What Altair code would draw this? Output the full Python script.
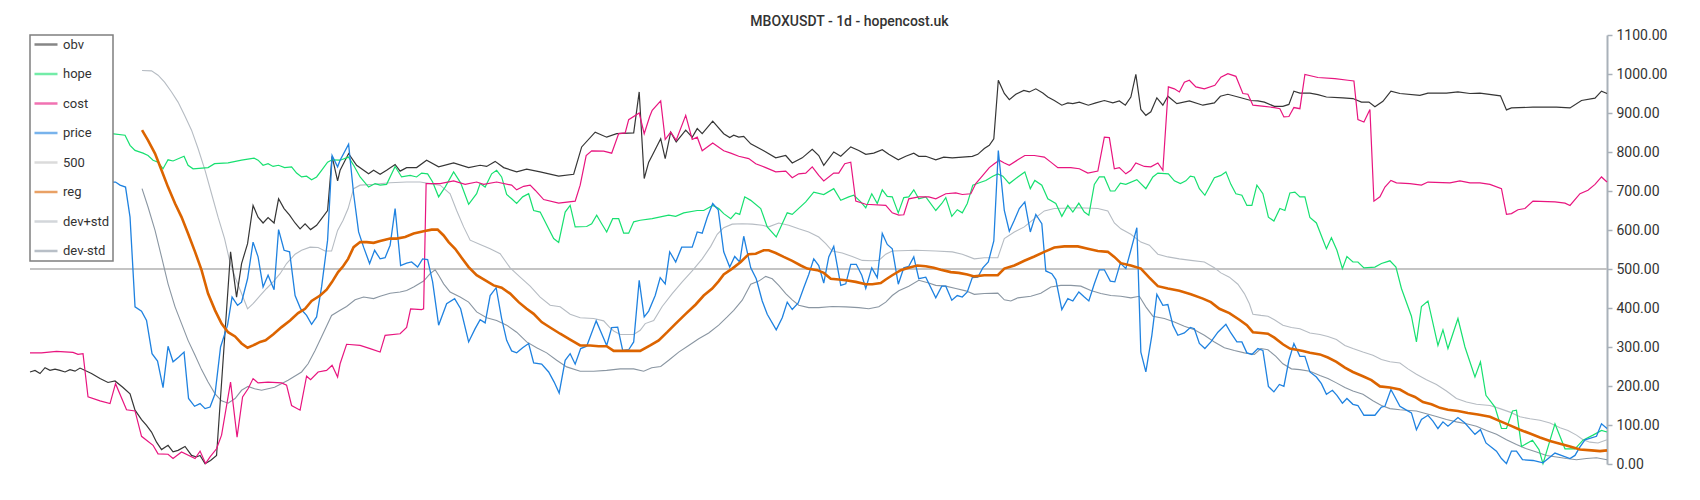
import altair as alt
import pandas as pd

# ---------------- data (day index, value) ----------------
obv_day = [0, 1, 2, 3, 4, 5, 6, 7, 8, 9, 10, 12.3, 14, 15.6, 17, 18.6, 20, 21, 22.3, 23.3, 24.3, 25.3, 26.3, 27.6, 28.6, 29.6, 31, 32.3, 33.3, 34, 35, 36.1, 37.3, 40.1, 41.3, 42.3, 43.5, 44.6, 45.6, 46.6, 47.6, 48.8, 49.7, 50.8, 51.9, 53, 54, 55, 56.1, 57.3, 58.3, 59.5, 60.4, 61.5,
           62, 63.7, 65.3, 67.7, 68.7, 70, 71.3, 73, 74, 75.3, 77.3, 79.3, 81.7, 84.7, 87.7, 90, 91.3, 93, 94.7, 97.3, 99.3, 102, 105.7, 108.7, 110.3, 113, 115.3, 117.3, 120.7, 121.8, 122.8, 123.7,
           124.4, 126.1, 127, 128.1, 129.2, 131.1, 132.4, 133.4, 134.4, 136.5, 138.7, 139.9, 140.7, 141.7, 142.7, 144.1, 146.7, 149.1, 151.1, 152.4, 154.4, 156.4, 157.7, 158.7, 160.7, 162.1, 164.1, 165.7, 167.1, 168.7, 170.4, 171.7, 173.6, 175.1, 176.7, 177.7, 179.1, 181.1, 182.7, 184.4, 188.4,
           189.5, 190.8, 191.8, 192.7, 193.6, 194.8, 195.8, 197.1, 198.7, 199.8, 201.1, 202.5, 203.5, 204.8, 206.3, 207.5, 208.5, 209.8, 211.6, 213.1, 214.8, 216.5, 217.8, 219, 220.1, 221.1, 222.1, 223.1, 224.1, 225.3, 226.5, 227.5, 229.3, 231.8, 234.5, 236.8, 238, 239.5, 242.1, 244.1, 245.5, 246.8, 248.8,
           250.5, 251.7, 252.7, 253.9, 255.9, 257.5, 259.2, 262.5, 264.5, 266.2, 267.7, 268.9, 270.5, 272.1, 273.9, 277.9, 279.5, 283.2, 285.5, 287.9, 289.9, 294, 295.2, 296.2, 300.5, 305.2, 307.9, 310.2, 312.9, 314.2, 315.3]
obv_val = [236, 240, 232, 247, 240, 243, 240, 236, 242, 238, 246, 232, 219, 209, 213, 196, 180, 138, 114, 99, 82, 56, 37, 48, 31, 35, 45, 22, 18, 22, 1, 9, 22, 544, 428, 514, 565, 663, 633, 618, 632, 618, 680, 655, 638, 618, 603, 616, 601, 612, 629, 650, 789, 726,
           753, 796, 766, 744, 753, 743, 753, 768, 751, 760, 760, 779, 762, 772, 760, 766, 763, 776, 760, 749, 756, 749, 738, 743, 813, 851, 838, 847, 849, 954, 732, 774,
           791, 834, 783, 851, 826, 856, 838, 860, 847, 879, 847, 837, 843, 838, 840, 821, 803, 785, 791, 772, 785, 807, 791, 766, 800, 789, 813, 804, 794, 797, 806, 794, 780, 789, 797, 789, 789, 780, 787, 785, 789,
           794, 809, 817, 834, 984, 950, 934, 948, 958, 954, 962, 951, 941, 932, 920, 926, 924, 928, 920, 926, 932, 926, 931, 920, 941, 999, 909, 894, 903, 939, 920, 943, 924, 931, 920, 926, 943, 948, 939, 932, 931, 928, 917,
           917, 922, 956, 951, 951, 947, 941, 939, 937, 928, 928, 916, 930, 956, 950, 945, 951, 951, 954, 950, 951, 944, 908, 913, 915, 915, 913, 932, 938, 956, 950]

hope_day = [0, 16.3, 19, 20, 21, 22.6, 23.6, 24.6, 25.6, 26.6, 27.6, 28.6, 30.8, 31.6, 32.6, 35.6, 36.9, 39.6, 42.3, 44.8, 45.6, 46.6, 47.6, 48.6, 49.7, 50.9, 52.3, 53.3, 54.3, 55.3, 56.3, 57.3, 58.3, 59.5, 60.4,
            62, 63.7, 64.7, 66, 67.7, 69, 70, 71.3, 73, 74.3, 76, 77.3, 78.3, 79.5, 80.5, 81.7, 83, 84.7, 86.1, 87.7, 89.3, 90, 91, 92.3, 93.3, 94.3, 95.3, 96.3, 97.3, 98.5, 99.7, 100.7, 102, 104.7, 105.7, 107, 108, 109, 111.3, 112.3, 113.3, 114.3, 115.3, 116.5, 117.7, 118.7, 119.7, 120.7, 122,
            124.4, 127.7, 129.1, 130.7, 133.4, 134.7, 136.5, 137.7, 138.7, 140.1, 141.1, 141.9, 142.9, 144.1, 146.1, 147.4, 149.2, 151.4, 152.4, 155.1, 156.7, 158.7, 160.7, 162.1, 163.7, 164.7, 166.1, 167.1, 168.3, 169.4, 170.4, 171.4, 172.4, 173.6, 174.7, 175.7, 176.7, 177.7, 179.1, 181.1, 182.3, 183.1, 184.3, 185.4, 186.4,
            187.4, 188.5, 189.8, 191.1, 192.5, 193.5, 194.5, 195.8, 197.5, 198.9, 200, 200.9, 202.3, 203.5, 205.1, 206.3, 207.5, 208.5, 209.7, 210.8, 211.7, 212.8, 213.8, 214.8, 216, 216.9, 218, 219.1, 221.3, 223.1, 224.5, 225.5, 227.6, 228.8, 230, 231.1, 232, 232.8, 233.8, 234.9, 236.8, 238.1, 239.1, 240.1, 241.1, 242.3, 243.3, 244.3, 245.3, 246.5, 247.6, 248.7,
            249.9, 250.9, 251.9, 252.9, 253.9, 254.9, 255.9, 257.2, 259.2, 260.2, 261.3, 262.4, 263.3, 264.5, 265.5, 266.7, 268.9, 270.2, 271.9, 273.1, 274.2, 276.2, 277.2, 278.2, 279.5, 281.5, 282.5, 283.5, 285.5, 286.9, 288.9, 290, 291.1, 292.9, 294.2, 295.2, 296.4, 297.2, 298.2, 300.4, 301.7, 302.5, 304.9, 306.9, 308.9, 310.5, 312.5, 314.2, 315.3]
hope_val = [848, 847, 843, 817, 804, 797, 791, 779, 774, 757, 780, 777, 789, 766, 757, 760, 770, 772, 779, 784, 779, 766, 770, 763, 766, 760, 762, 746, 736, 738, 729, 736, 753, 774, 780,
            779, 787, 766, 736, 710, 719, 715, 717, 763, 736, 740, 736, 746, 744, 723, 685, 710, 749, 721, 666, 693, 719, 710, 744, 753, 736, 691, 680, 668, 685, 693, 650, 646, 578, 568, 646, 663, 608, 609, 616, 638, 616, 595, 629, 629, 592, 592, 621, 625,
            629, 638, 635, 644, 650, 650, 663, 655, 642, 629, 644, 640, 685, 676, 655, 608, 582, 644, 640, 672, 697, 691, 706, 676, 685, 689, 672, 657, 693, 668, 703, 686, 685, 644, 683, 685, 703, 680, 685, 650, 668, 683, 635, 652, 644,
            668, 715, 721, 727, 738, 744, 738, 719, 736, 749, 706, 727, 715, 680, 668, 635, 663, 646, 669, 646, 638, 717, 736, 736, 700, 700, 720, 717, 729, 706, 736, 746, 744, 726, 719, 726, 738, 736, 706, 689, 734, 740, 749, 717, 693, 689, 663, 663, 715, 693, 633, 623,
            655, 650, 695, 697, 685, 685, 632, 618, 552, 580, 548, 501, 532, 518, 518, 503, 505, 514, 521, 505, 450, 379, 313, 404, 418, 304, 344, 296, 373, 300, 223, 262, 176, 146, 91, 91, 136, 138, 45, 61, 37, 1, 103, 39, 39, 61, 74, 86, 82]

cost_day = [0, 2.3, 5.3, 8.6, 9.6, 10.6, 11.6, 14, 16, 17.1, 19.3, 21, 22.3, 24.6, 25.6, 27.6, 28.6, 30.3, 33, 34, 35.1, 36, 37.3, 38.3, 40.1, 41.4, 42.5, 43.6, 44.6, 45.6, 47.6, 50.3, 51.3, 52.3, 54, 55.3, 56.1, 57.6, 59.3, 60.4, 61.5,
            62, 63.3, 66, 68, 70, 71, 74, 75.3, 76.1, 78.3, 78.7, 79.2, 82, 84.7, 87, 89.3, 90.7, 93.3, 96.3, 97.3, 98.7, 100, 101, 102.7, 105.7, 109, 110, 111.2, 112.3, 114.7, 116.3, 117.7, 119, 119.7, 121.8, 122.8, 123.9,
            124.4, 126.1, 127, 128.1, 129.2, 131.1, 132.4, 133.4, 134.4, 136.5, 138.7, 140.1, 141.7, 143.7, 145.1, 147.1, 149.1, 151.1, 152.4, 153.7, 155.1, 156.4, 157.7, 158.7, 160.7, 161.7, 162.9, 164.1, 165.1, 167.1, 171.1, 172.4, 173.7, 174.7, 175.7, 177.7, 179.7, 181.1, 183.1, 185.1, 186.4,
            188.1, 189.1, 190.5, 191.8, 192.8, 193.8, 194.8, 195.8, 197.5, 198.9, 200.8, 202.8, 204.1, 205.5, 208.1, 209.8, 211.5, 213.5, 214.8, 215.8, 216.8, 217.8, 219.1, 220.1, 221.1, 222.8, 224.1, 225.5, 226.5, 227.6, 228.8, 229.8, 230.8, 231.8, 233.1, 234.8, 236.9, 238.1, 239.5, 241.1, 242.5, 243.5, 244.5, 246.8, 248.8,
            249.9, 250.7, 251.7, 252.7, 253.9, 254.9, 257.5, 260.9, 263.5, 264.7, 265.5, 266.7, 267.9, 268.7, 269.9, 270.9, 272.1, 273.2, 275.9, 278.2, 279.5, 283.9, 285.9, 287.9, 289.9, 291.9, 294.2, 295.2, 296.2, 297.5, 298.9, 300.5, 304.9, 306.9, 307.9, 309.9, 311.5, 312.9, 314.2, 315.3]
cost_val = [285, 285, 289, 286, 281, 283, 172, 162, 155, 206, 139, 136, 71, 48, 26, 25, 14, 31, 14, 33, 1, 18, 39, 74, 210, 69, 172, 193, 219, 208, 210, 208, 202, 150, 138, 225, 216, 236, 240, 253, 223,
            257, 307, 304, 296, 287, 330, 334, 350, 398, 396, 398, 719, 719, 726, 717, 723, 717, 723, 715, 703, 712, 715, 702, 678, 669, 674, 715, 791, 803, 802, 797, 847, 849, 883, 900, 847, 891,
            907, 931, 832, 851, 830, 894, 832, 838, 803, 823, 803, 797, 789, 783, 770, 760, 749, 751, 734, 744, 746, 762, 740, 726, 746, 746, 770, 774, 674, 666, 663, 644, 638, 639, 680, 685, 685, 680, 693, 695, 691,
            693, 719, 740, 760, 770, 779, 772, 766, 780, 791, 791, 787, 774, 760, 760, 757, 746, 751, 838, 837, 757, 760, 744, 753, 772, 763, 762, 772, 753, 967, 962, 954, 979, 984, 967, 962, 971, 992, 1001, 994, 950, 948, 920, 917, 914,
            911, 890, 891, 914, 911, 999, 991, 988, 984, 982, 883, 877, 909, 674, 685, 710, 727, 721, 719, 715, 723, 721, 726, 721, 721, 717, 706, 640, 642, 652, 655, 674, 672, 669, 663, 693, 702, 717, 736, 723]

price_day = [0, 16.3, 17.1, 18, 19.1, 20, 21, 22.3, 23.3, 24.4, 25.5, 26.6, 27.6, 28.6, 29.7, 30.8, 31.7, 32.9, 34, 35, 36, 37, 38.1, 39.5, 40.4, 41.5, 42.3, 43.5, 44.6, 45.6, 46.6, 47.6, 48.8, 49.7, 50.8, 51.9, 53, 54.1, 55.3, 56.3, 57.3, 58.3, 59.5, 60.4, 61.5,
             62, 63.7, 64.7, 65.7, 66.7, 67.9, 68.9, 70, 71, 72, 73, 74.1, 75.3, 76.3, 77.5, 78.5, 79.5, 80.5, 81.7, 83.3, 84.9, 86.1, 87.7, 89, 90, 91, 92, 93.2, 94.3, 95.3, 96.3, 97.3, 98.5, 99.7, 100.7, 102.3, 103.7, 104.8, 105.8, 107, 108, 109, 110.1, 111.3, 113.2, 114.3, 115.3, 116.3, 117.5, 118.5, 119.7, 120.7, 121.8, 122.8, 123.7, 125, 126,
             127, 127.9, 129.1, 130.3, 132.4, 133.4, 134.4, 135.4, 136.5, 137.6, 138.7, 139.9, 140.9, 141.9, 142.7, 144.1, 145.2, 146.4, 147.4, 149.2, 150.4, 151.4, 152.4, 153.6, 154.7, 155.7, 156.7, 157.7, 158.7, 159.7, 160.7, 162.1, 163.1, 164.1, 165.2, 166.3, 167.1, 168.3, 169.4, 170.4, 171.4, 172.4, 173.6, 174.7, 175.7, 176.7, 177.7, 179.1, 181.1, 182.3, 183.1, 184.3, 185.4, 186.4, 187.4, 188.4,
             189.5, 190.5, 191.6, 192.7, 193.6, 194.8, 195.8, 196.8, 197.8, 198.9, 200, 201.1, 202.3, 203.1, 204.3, 205.1, 206.3, 207.5, 208.5, 209.7, 210.8, 211.7, 212.8, 213.8, 214.8, 216, 216.9, 218, 219.1, 220.1, 221.3, 222.1, 223.1, 224.3, 225.3, 226.5, 227.5, 228.5, 229.5, 230.8, 232, 232.8, 233.8, 234.9, 236.1, 237.5, 239.1, 240.1, 241.3, 242.3, 243.3, 244.3, 245.5, 246.5, 247.6, 248.7, 249.8,
             250.7, 251.7, 252.7, 253.9, 254.9, 255.9, 257.2, 258.2, 259.2, 260.4, 261.3, 262.4, 263.3, 264.5, 265.5, 266.7, 268.9, 270.2, 270.9, 272.1, 273.9, 275.2, 276.2, 277.2, 278.2, 279.5, 280.5, 281.5, 282.5, 283.5, 285.5, 286.9, 288.9, 290, 291.1, 293.2, 294.2, 295.2, 296.2, 297.2, 298.4, 300.5, 302.5, 304.9, 307.9, 308.9, 309.9, 310.9, 313.2, 314.2, 315.3]
price_val = [725, 723, 723, 715, 710, 633, 403, 392, 368, 283, 264, 196, 302, 262, 274, 287, 168, 148, 155, 142, 146, 180, 300, 356, 428, 407, 415, 475, 569, 531, 454, 484, 447, 601, 548, 544, 432, 398, 381, 358, 377, 454, 574, 791, 762,
             779, 820, 693, 595, 556, 514, 548, 526, 529, 561, 655, 509, 515, 518, 505, 526, 524, 467, 356, 411, 424, 398, 313, 347, 370, 362, 432, 452, 373, 317, 290, 285, 298, 309, 259, 256, 236, 210, 182, 266, 283, 256, 296, 302, 367, 334, 304, 350, 351, 291, 293, 313, 471, 377, 392, 432, 478,
             462, 544, 518, 556, 556, 595, 592, 632, 668, 652, 544, 505, 532, 518, 584, 503, 475, 418, 384, 344, 375, 415, 396, 413, 452, 486, 526, 509, 464, 531, 558, 458, 462, 512, 512, 484, 450, 503, 478, 591, 563, 552, 461, 503, 507, 531, 475, 479, 426, 456, 456, 420, 432, 428, 441, 478,
             479, 503, 518, 572, 804, 650, 597, 625, 655, 672, 595, 640, 616, 495, 488, 473, 396, 424, 418, 441, 428, 418, 462, 498, 498, 469, 467, 515, 501, 548, 606, 287, 236, 330, 435, 407, 409, 356, 330, 336, 350, 347, 309, 296, 313, 338, 358, 336, 313, 313, 285, 281, 296, 291, 199, 185, 204,
             199, 266, 309, 276, 276, 236, 223, 206, 179, 189, 176, 156, 168, 153, 150, 125, 125, 146, 148, 191, 148, 138, 131, 88, 114, 125, 110, 91, 108, 97, 119, 105, 76, 88, 54, 33, 14, 1, 33, 33, 11, 9, 3, 28, 14, 22, 44, 62, 71, 103, 91]

line500_day = [0, 315.3]
line500_val = [500, 500]

reg_day = [22.4, 23.6, 25, 26.3, 27.6, 29, 30.3, 31.6, 33, 34.3, 35.6, 37, 38.3, 39.6, 41, 42.3, 43.5, 44.6, 46, 47.1, 48.6, 50.3, 52, 53.6, 55, 56.3, 58, 59.3, 60.4, 61.6,
           62.6, 63.6, 64.7, 66, 67.3, 68.7, 70, 72, 73.3, 75, 76.7, 78.7, 80.3, 81.5, 82.7, 83.7, 85, 86.3, 87.7, 89.3, 91.3, 92.7, 94.3, 96, 97.7, 99.3, 100.7, 102.3, 104, 106,
           108, 110, 112, 113.7, 115.3, 116.7, 118.7, 122, 124, 125.7, 127.4, 129.1, 131.1, 133.1, 134.7, 136.4, 137.7, 138.7, 140.4, 142.1, 143.7, 145.1, 146.7, 147.7, 149.1, 150.7, 152.4, 154.1, 155.4, 157.4,
           158.7, 160.1, 161.7, 163.1, 165.1, 167.1, 168.4, 170.1, 171.1, 172.4, 174.1, 175.7, 177.4, 179.1, 180.7, 182.1, 184.1, 185.7, 187.4, 188.8, 190.8, 193.5, 194.8, 196.8, 198.8, 200.8, 202.8, 204.8, 206.8, 209.5,
           211.5, 213.5, 215.5, 216.8, 218.1, 220.1, 222.1, 223.8, 225.5, 227.5, 229.8, 232.1, 234.5, 236.1, 237.8, 239.8, 241.8, 243.3, 244.5, 246.1, 247.5, 248.8, 250.5, 251.9, 253.2, 254.5, 255.9, 257.9, 259.5, 261.2,
           262.9, 264.5, 266.5, 268.2, 269.9, 271.9, 273.9, 275.5, 276.9, 278.5, 280.2, 281.9, 283.5, 285.5, 287.5, 289.5, 291.9, 293.9, 295.9, 297.9, 299.9, 301.9, 303.9, 305.9, 307.9, 309.9, 312.2, 313.9, 315.3]
reg_val = [856, 830, 796, 753, 710, 668, 633, 591, 544, 497, 437, 394, 360, 338, 327, 309, 298, 304, 313, 317, 332, 351, 368, 387, 398, 418, 432, 447, 467, 492,
           507, 526, 556, 569, 569, 567, 572, 578, 578, 582, 591, 597, 601, 601, 586, 569, 552, 529, 505, 484, 469, 458, 452, 437, 415, 398, 385, 364, 350, 334,
           319, 304, 304, 302, 302, 290, 290, 290, 304, 317, 338, 360, 385, 409, 432, 450, 469, 486, 501, 518, 538, 539, 548, 548, 541, 531, 521, 509, 501, 497,
           490, 475, 473, 471, 467, 461, 461, 464, 473, 484, 497, 503, 509, 507, 503, 498, 492, 490, 486, 481, 484, 484, 501, 509, 521, 532, 544, 555, 558, 558,
           552, 546, 544, 531, 515, 509, 501, 478, 456, 450, 444, 435, 424, 415, 398, 387, 370, 356, 338, 336, 334, 324, 307, 296, 293, 290, 285, 281, 273, 262,
           247, 236, 225, 215, 199, 196, 191, 179, 172, 159, 153, 144, 139, 136, 131, 127, 121, 110, 99, 88, 78, 68, 59, 52, 45, 37, 35, 33, 35]

devp_day = [22.4, 24.3, 25.6, 26.9, 28.3, 29.6, 30.9, 32.3, 33.6, 35, 36.3, 37.6, 38.9, 39.9, 41, 42.3, 43.5, 44.6, 46, 47.3, 48.6, 50, 51.3, 53, 54.3, 56, 57.6, 59, 60.3, 61.5,
            62.6, 63.6, 64.7, 66, 68.7, 72, 75.3, 78, 80, 82, 84, 85.3, 86.7, 88, 90, 92, 94, 96, 98, 100, 102, 104, 106, 108, 110, 112.7, 114.7, 115.7, 116.7, 118,
            120.7, 122, 123, 124.7, 126.4, 128.4, 130.4, 132.4, 134.4, 136.1, 137.4, 138.7, 140.4, 142.4, 144.4, 146.4, 147.7, 149.7, 151.7, 153.7, 155.7, 157.7, 159.1, 160.4, 162.4, 164.4, 166.4, 168.4, 169.7, 171.1,
            172.4, 177.1, 181.1, 184.4, 186.4, 188.8, 190.8, 193.5, 194.8, 196.8, 198.8, 200.8, 202.8, 204.8, 209.5, 213.5, 215.5, 216.8, 218.1, 220.1, 222.1, 223.8, 225.5, 227.5, 229.8, 232.1, 234.8, 236.8, 238.1, 239.8,
            241.5, 242.8, 243.8, 244.5, 246.1, 247.5, 248.8, 250.5, 252.2, 253.9, 255.9, 257.9, 259.5, 261.2, 262.9, 264.5, 266.5, 268.5, 270.2, 271.9, 273.9, 275.5, 277.2, 279.2, 281.2, 283.2, 285.2, 287.2, 289.2, 291.9,
            293.9, 295.9, 297.9, 299.9, 301.9, 303.9, 305.9, 307.5, 309.2, 310.5, 311.9, 313.5, 315.3]
devp_val = [1009, 1008, 997, 979, 954, 928, 894, 856, 809, 753, 693, 633, 578, 522, 479, 437, 398, 411, 432, 450, 467, 488, 514, 538, 548, 556, 555, 546, 546, 599,
            625, 655, 706, 715, 717, 721, 723, 723, 719, 715, 693, 650, 608, 574, 563, 552, 539, 503, 479, 456, 428, 407, 403, 384, 375, 373, 367, 353, 341, 332,
            332, 343, 360, 368, 404, 437, 467, 495, 526, 558, 589, 606, 615, 616, 615, 612, 608, 618, 612, 603, 595, 582, 565, 546, 541, 532, 522, 521, 522, 538,
            546, 548, 546, 544, 538, 526, 529, 529, 578, 595, 608, 629, 649, 655, 657, 655, 649, 618, 603, 589, 569, 561, 538, 531, 526, 522, 518, 503, 490, 479,
            461, 437, 411, 384, 381, 379, 370, 356, 350, 347, 336, 332, 327, 319, 304, 296, 287, 279, 268, 262, 259, 244, 230, 216, 204, 187, 168, 159, 153, 150,
            142, 133, 121, 116, 112, 105, 93, 86, 74, 62, 56, 54, 62]

devm_day = [22.4, 23.6, 25, 26.3, 27.6, 29, 30.3, 31.6, 33, 34.3, 35.6, 37, 38.3, 39.6, 41, 42.3, 43.6, 44.9, 46.3, 48.9, 51.6, 54.3, 55.6, 57, 58.3, 60.3, 62, 63.3, 65, 66.7,
            68.7, 70, 72, 74, 75.3, 76.7, 78.7, 80, 81, 81.7, 82.7, 84, 86, 87.7, 89.3, 91.3, 93.3, 95.3, 97.3, 99.3, 101.3, 103.3, 105.3, 107.3, 110, 112.7, 115.3, 118, 120.7, 122.7,
            124.3, 126.1, 127.7, 129.7, 131.7, 133.7, 135.7, 137.7, 139.4, 140.7, 142.4, 144.1, 145.7, 147.1, 148.4, 149.7, 151.1, 152.4, 153.7, 155.7, 157.7, 160.4, 163.1, 165.7, 167.7, 169.7, 171.1, 172.4, 173.7, 175.7,
            177.7, 179.7, 181.1, 183.1, 185.1, 187.1, 188.8, 190.8, 193.5, 194.8, 196.1, 197.5, 200.1, 202.1, 204.1, 206.1, 208.1, 210.1, 212.1, 214.1, 216.1, 218.1, 220.1, 221.8, 223.1, 224.5, 226.8, 228.8, 230.8, 232.8,
            234.8, 236.8, 238.8, 240.8, 242.8, 244.8, 246.1, 247.5, 249.1, 250.5, 252.2, 253.9, 255.9, 257.9, 259.5, 261.2, 262.9, 264.5, 266.5, 268.5, 270.2, 271.9, 273.9, 277.2, 279.2, 281.2, 283.2, 285.2, 287.2, 289.2,
            291.2, 293.2, 295.2, 297.2, 299.2, 301.2, 303.2, 305.2, 307.2, 309.2, 311.2, 313.2, 315.3]
devm_val = [706, 659, 599, 531, 462, 403, 360, 317, 279, 242, 210, 180, 162, 156, 168, 189, 199, 193, 189, 197, 215, 236, 257, 291, 326, 381, 394, 404, 421, 428,
            424, 430, 438, 441, 445, 454, 469, 488, 498, 484, 462, 441, 428, 415, 390, 375, 368, 356, 338, 313, 298, 285, 266, 249, 238, 238, 240, 244, 244, 238,
            247, 250, 266, 287, 304, 321, 336, 356, 377, 394, 420, 461, 469, 481, 475, 458, 437, 421, 407, 401, 401, 404, 403, 401, 398, 403, 415, 432, 444, 456,
            471, 464, 458, 456, 450, 444, 435, 437, 438, 421, 418, 426, 430, 438, 454, 458, 458, 456, 445, 437, 432, 430, 426, 430, 403, 379, 373, 364, 353, 344,
            330, 313, 298, 291, 285, 281, 296, 293, 276, 257, 244, 242, 238, 227, 219, 208, 196, 187, 179, 162, 150, 142, 139, 136, 129, 122, 114, 108, 103, 97,
            86, 76, 62, 50, 39, 31, 22, 18, 14, 11, 14, 16, 11]

series_names = ["obv", "hope", "cost", "price", "500", "reg", "dev+std", "dev-std"]
series_colors = ["#363636", "#17e070", "#e8157f", "#1f82e0", "#c4c4c4", "#dc6400", "#b6bcc3", "#8a96a2"]
series_widths = {"obv": 1.2, "hope": 1.2, "cost": 1.2, "price": 1.3, "500": 2.0, "reg": 2.6, "dev+std": 1.1, "dev-std": 1.1}
draw_order = ["500", "dev+std", "dev-std", "obv", "hope", "cost", "price", "reg"]

parts = [
    ("obv", obv_day, obv_val), ("hope", hope_day, hope_val), ("cost", cost_day, cost_val),
    ("price", price_day, price_val), ("500", line500_day, line500_val), ("reg", reg_day, reg_val),
    ("dev+std", devp_day, devp_val), ("dev-std", devm_day, devm_val),
]
df = pd.concat(
    [pd.DataFrame({"series": n, "day": d, "value": v}) for n, d, v in parts],
    ignore_index=True,
)

legend = alt.Legend(
    title=None, orient="none", legendX=0, legendY=0,
    fillColor="white", strokeColor="#7f7f7f", padding=3, cornerRadius=0,
    symbolType="stroke", symbolSize=529, symbolStrokeWidth=2.5, symbolOpacity=0.6,
    clipHeight=13,
    labelFont="Roboto", labelFontSize=13, labelColor="#333333",
    rowPadding=15.5, labelOffset=4,
)

base = alt.Chart(df).encode(
    x=alt.X("day:Q", scale=alt.Scale(domain=[0, 315.3], nice=False, zero=False), axis=None),
    y=alt.Y("value:Q", scale=alt.Scale(domain=[0, 1100], nice=False),
            axis=alt.Axis(orient="right", title=None, values=list(range(0, 1101, 100)), format=".2f",
                          grid=False, domainColor="#a9b1b9", domainWidth=2, tickColor="#a9b1b9",
                          tickWidth=1.5, tickSize=5, labelPadding=4, labelFont="Roboto",
                          labelFontSize=14, labelColor="#333333")),
    color=alt.Color("series:N", scale=alt.Scale(domain=series_names, range=series_colors), legend=legend),
)

layers = [
    base.transform_filter(alt.datum.series == name).mark_line(interpolate="linear", strokeWidth=series_widths[name])
    for name in draw_order
]

chart = alt.layer(*layers).properties(
    width=1577, height=429,
    title=alt.TitleParams("MBOXUSDT - 1d - hopencost.uk", font="Roboto", fontSize=14, fontWeight=500,
                          color="#333333", anchor="middle", dx=31, dy=3, offset=2),
    autosize=alt.AutoSizeParams(type="none"),
    padding={"left": 22, "top": 27, "right": 80, "bottom": 20},
).configure_view(strokeWidth=0).configure_legend(strokeWidth=1.5)

chart.save("out.html", embed_options={"renderer": "svg", "actions": False})
